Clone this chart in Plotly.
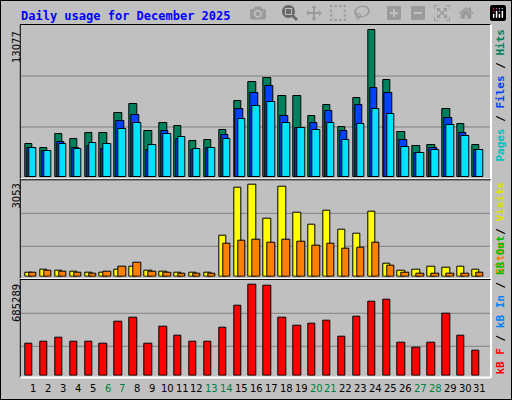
import plotly.graph_objects as go

days = list(range(1, 32))
weekend = [6, 7, 13, 14, 20, 21, 27, 28]
hits = [2959, 2604, 3847, 3403, 3935, 3935, 5711, 6510, 4113, 4823, 4557, 3225, 3314, 4202, 6776, 8463, 8818, 7220, 7220, 5444, 6421, 4468, 7042, 13077, 8640, 4024, 2781, 2870, 6066, 4734, 2870]
files = [2574, 2338, 3137, 2604, 2781, 2515, 5001, 5533, 2426, 4113, 3403, 2426, 2604, 3758, 6066, 7486, 8108, 5445, 4379, 4823, 5888, 4113, 6421, 7930, 7486, 3314, 2160, 2604, 5267, 3935, 2426]
pages = [2604, 2338, 2959, 2515, 3048, 2959, 4291, 4823, 2870, 3847, 3580, 2515, 2604, 3403, 5178, 6332, 6687, 4823, 4379, 4202, 4823, 3314, 4734, 6066, 5622, 2693, 2160, 2426, 4646, 3669, 2426]
visits = [143, 242, 209, 176, 143, 143, 242, 342, 209, 176, 143, 143, 143, 1367, 2954, 3053, 1929, 2987, 2127, 1730, 2193, 1565, 1433, 2160, 441, 209, 242, 342, 309, 342, 242]
sites = [143, 209, 176, 143, 110, 176, 342, 474, 176, 143, 110, 110, 110, 1102, 1201, 1234, 1135, 1234, 1168, 1036, 1102, 937, 970, 1135, 375, 143, 110, 110, 110, 110, 143]
kbytes = [242600, 257600, 287600, 257600, 257600, 242600, 407700, 437700, 242600, 370100, 302600, 257600, 257600, 362600, 527700, 685289, 677800, 437700, 377700, 392700, 415200, 295100, 445200, 557700, 572700, 250100, 212600, 250100, 467700, 302600, 190100]

GRAY = "#C0C0C0"
line = dict(color="black", width=1)

def px(p):
    return 1 - p / 400.0

fig = go.Figure()
def bar(y, off, color, ax):
    fig.add_trace(go.Bar(x=[d + off for d in days], y=y, width=0.5, marker=dict(color=color, line=line),
                         xaxis="x" + ax, yaxis="y" + ax, showlegend=False, hoverinfo="skip"))

bar(hits, 0, "#00805C", "")
bar(files, 0.13, "#0040FF", "")
bar(pages, 0.27, "#00E0FF", "")
bar(visits, 0, "#FFFF00", "2")
bar(sites, 0.27, "#FF8000", "2")
bar(kbytes, 0, "#FF0000", "3")

xr = [0.416, 31.99]
xcommon = dict(range=xr, showticklabels=False, showgrid=False, zeroline=False, fixedrange=True)
ycommon = dict(showticklabels=False, showgrid=False, zeroline=False)
fig.update_layout(
    width=512, height=400, margin=dict(l=0, r=0, t=0, b=0),
    paper_bgcolor=GRAY, plot_bgcolor=GRAY, barmode="overlay", bargap=0,
    xaxis=dict(domain=[20.3/512, 490.7/512], anchor="y", **xcommon),
    xaxis2=dict(domain=[20.3/512, 490.7/512], anchor="y2", **xcommon),
    xaxis3=dict(domain=[20.3/512, 490.7/512], anchor="y3", **xcommon),
    yaxis=dict(domain=[px(177), px(25)], range=[0, 13077 * 152 / 147.4], anchor="x", **ycommon),
    yaxis2=dict(domain=[px(276.7), px(180.7)], range=[0, 3053 * 96 / 92.4], anchor="x2", **ycommon),
    yaxis3=dict(domain=[px(375.7), px(280.7)], range=[0, 685289 * 95 / 91.4], anchor="x3", **ycommon),
)

shapes = []
for ax, fr in [("", [0.329, 0.664]), ("2", [0.317, 0.66]), ("3", [0.31, 0.657])]:
    for f in fr:
        shapes.append(dict(type="line", xref="x" + ax + " domain", yref="y" + ax + " domain",
                           x0=0, x1=1, y0=f, y1=f, line=dict(color="#808080", width=1), layer="below"))
X0, X1 = 20.3/512, 490.7/512
def hline(y, c, w=1):
    shapes.append(dict(type="line", xref="paper", yref="paper", x0=X0, x1=X1, y0=px(y), y1=px(y), line=dict(color=c, width=w)))
def vline(x, c, w=1):
    shapes.append(dict(type="line", xref="paper", yref="paper", x0=x/512, x1=x/512, y0=px(377.5), y1=px(24.5), line=dict(color=c, width=w)))
hline(24.5, "black"); vline(20.3, "black")
hline(377.5, "white", 2); vline(491, "white", 2)
hline(178.8, "white"); hline(179.8, "black")
hline(278.5, "white"); hline(279.5, "black")
shapes.append(dict(type="rect", xref="paper", yref="paper", x0=0, x1=1, y0=0, y1=1, line=dict(color="black", width=2)))
fig.update_layout(shapes=shapes)

ann = []
F = "DejaVu Sans Mono"
ann.append(dict(text="<b>Daily usage for December 2025</b>", x=19/512, y=px(16), xref="paper", yref="paper",
                xanchor="left", yanchor="middle", showarrow=False, font=dict(family=F, size=12, color="#0000FF")))
for txt, top in [("13077", 29), ("3053", 182), ("685289", 282)]:
    ann.append(dict(text=txt, textangle=-90, x=16/512, y=px(top), xref="paper", yref="paper",
                    xanchor="center", yanchor="top", showarrow=False, font=dict(family="DejaVu Sans", size=10, color="black")))
def sp(t, c):
    return f"<span style='color:{c}'>{t}</span>"
ann.append(dict(text="<b>" + sp("Pages", "#00C0C0") + " / " + sp("Files", "#0040FF") + " / " + sp("Hits", "#00805C") + "</b>",
                textangle=-90, x=500/512, y=px(27), xref="paper", yref="paper", xanchor="center", yanchor="top",
                showarrow=False, font=dict(family=F, size=11, color="black")))
ann.append(dict(text="<b>" + sp("Sites", "#FF8000") + " / " + sp("Visits", "#E0E000") + "</b>",
                textangle=-90, x=500/512, y=px(180), xref="paper", yref="paper", xanchor="center", yanchor="top",
                showarrow=False, font=dict(family=F, size=11, color="black")))
ann.append(dict(text="<b>" + sp("kB F", "#FF0000") + " / " + sp("kB In", "#0080FF") + " / " + sp("kB Out", "#00C000") + "</b>",
                textangle=-90, x=500/512, y=px(377), xref="paper", yref="paper", xanchor="center", yanchor="bottom",
                showarrow=False, font=dict(family=F, size=11, color="black")))
for d in days:
    ann.append(dict(text=str(d), x=d + 0.27, y=px(388), xref="x3", yref="paper", xanchor="center", yanchor="middle",
                    showarrow=False, font=dict(family="DejaVu Sans", size=10, color="#008040" if d in weekend else "black")))
fig.update_layout(annotations=ann)
fig.write_html("out.html", post_script="document.body.style.margin='0';document.body.style.overflow='hidden';")
